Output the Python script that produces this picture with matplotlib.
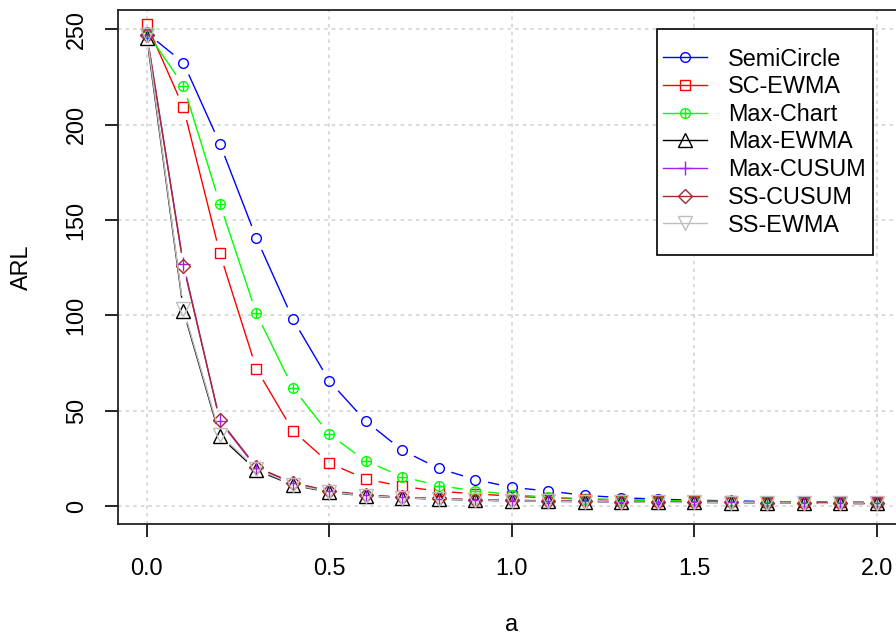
import numpy as np
import matplotlib
matplotlib.use("Agg")
import matplotlib.pyplot as plt
from matplotlib.collections import LineCollection
from matplotlib.lines import Line2D
from matplotlib.patches import Rectangle

plt.rcParams["font.family"] = ["Liberation Sans", "DejaVu Sans"]

# shift size a
a_values = [0.0, 0.1, 0.2, 0.3, 0.4, 0.5, 0.6, 0.7, 0.8, 0.9, 1.0,
            1.1, 1.2, 1.3, 1.4, 1.5, 1.6, 1.7, 1.8, 1.9, 2.0]

# average run lengths per chart
semicircle = [248, 232.5, 190, 140.5, 98, 65.5, 44.5, 29.2, 19.7, 13.9, 9.8,
              7.9, 5.6, 4.4, 3.6, 3.1, 2.7, 2.4, 2.2, 2.0, 1.9]
sc_ewma = [252.5, 209, 132.5, 72, 39.5, 22.5, 14.2, 10.3, 7.8, 6.4, 5.2,
           4.3, 3.7, 3.2, 2.9, 2.6, 2.4, 2.2, 2.1, 2.0, 1.9]
max_chart = [248.5, 220.5, 158.5, 101, 62, 37.6, 23.6, 15.4, 10.7, 8.0, 6.0,
             4.7, 3.9, 3.3, 2.9, 2.6, 2.4, 2.2, 2.0, 1.9, 1.8]
max_ewma = [245.5, 102.5, 36.5, 18.8, 11.0, 7.2, 5.3, 4.3, 3.6, 3.1, 2.7,
            2.5, 2.3, 2.1, 2.0, 1.9, 1.8, 1.7, 1.6, 1.5, 1.5]
max_cusum = [247, 127, 44.5, 20, 12, 7.8, 5.6, 4.6, 3.9, 3.3, 3.0,
             2.7, 2.5, 2.3, 2.2, 2.0, 1.9, 1.8, 1.7, 1.6, 1.5]
ss_cusum = [247, 126, 45, 20.5, 12.2, 8.0, 5.8, 4.7, 4.0, 3.4, 3.0,
            2.8, 2.5, 2.3, 2.2, 2.1, 1.9, 1.8, 1.7, 1.6, 1.6]
ss_ewma = [247, 103.5, 37.5, 19.5, 11.3, 7.4, 5.4, 4.4, 3.7, 3.2, 2.8,
           2.5, 2.3, 2.1, 2.0, 1.9, 1.8, 1.7, 1.6, 1.6, 1.5]

series_names = ["SemiCircle", "SC-EWMA", "Max-Chart", "Max-EWMA",
                "Max-CUSUM", "SS-CUSUM", "SS-EWMA"]
series_values = [semicircle, sc_ewma, max_chart, max_ewma,
                 max_cusum, ss_cusum, ss_ewma]
series_colors = ["#0000FF", "#FF0000", "#00FF00", "#000000",
                 "#A020F0", "#A52A2A", "#BEBEBE"]
# each entry: list of (marker, size) drawn on top of each other
series_markers = [[("o", 7.0)], [("s", 7.8)], [("o", 7.0), ("+", 7.0)],
                  [("^", 9.5)], [("+", 9.5)], [("D", 7.6)], [("v", 9.5)]]

x_ticks = [0.0, 0.5, 1.0, 1.5, 2.0]
x_tick_labels = ["0.0", "0.5", "1.0", "1.5", "2.0"]
y_ticks = [0, 50, 100, 150, 200, 250]
y_tick_labels = ["0", "50", "100", "150", "200", "250"]

W, H = 896, 637
fig = plt.figure(figsize=(W / 100, H / 100), dpi=100)
left, right, top, bottom = 117.7, 906.0, 10.0, 524.0
ax = fig.add_axes([left / W, 1 - bottom / H, (right - left) / W, (bottom - top) / H])
ax.set_xlim(-0.08, 2.08)
ax.set_ylim(-9.4, 260.1)

FS = 16.8
ax.set_xticks(x_ticks)
ax.set_xticklabels(x_tick_labels)
ax.set_yticks(y_ticks)
ax.set_yticklabels(y_tick_labels)
ax.tick_params(axis="both", direction="out", length=9.6, width=1.2,
               colors="black", labelsize=FS)
ax.tick_params(axis="x", pad=14)
ax.tick_params(axis="y", pad=12, labelrotation=90)
for lbl in ax.get_yticklabels():
    lbl.set_va("center")

for side in ["left", "bottom", "top", "right"]:
    ax.spines[side].set_linewidth(1.3)
    ax.spines[side].set_color("#222222")

ax.grid(True, color="#CFCFCF", linestyle=(0, (2.2, 2.8)), linewidth=1.1)
ax.set_axisbelow(True)

ax.set_xlabel("a", fontsize=FS)
ax.xaxis.set_label_coords(0.5, -0.209)
ax.xaxis.label.set_va("baseline")
ax.set_ylabel("ARL", fontsize=FS)
ax.yaxis.set_label_coords(-0.1227, 0.5)
ax.yaxis.label.set_va("center")
ax.yaxis.label.set_ha("center")


def gapped_segments(xs, ys, gap_px):
    """Line pieces between consecutive points, leaving a gap around each point."""
    pts = ax.transData.transform(np.column_stack([xs, ys]))
    inv = ax.transData.inverted()
    segs = []
    for p0, p1 in zip(pts[:-1], pts[1:]):
        d = p1 - p0
        length = np.hypot(d[0], d[1])
        if length > 2 * gap_px:
            u = d / length
            segs.append(inv.transform(np.array([p0 + u * gap_px, p1 - u * gap_px])))
    return segs


GAP = 13.0
LW = 1.0
handles = []
for i, (name, vals, col, mks) in enumerate(zip(series_names, series_values,
                                                series_colors, series_markers)):
    z = 3 + i
    lc = LineCollection(gapped_segments(a_values, vals, GAP), colors=col,
                        linewidths=LW, zorder=z)
    ax.add_collection(lc)
    for mk, ms in mks:
        ax.plot(a_values, vals, linestyle="none", marker=mk, markersize=ms,
                markerfacecolor="none", markeredgecolor=col,
                markeredgewidth=1.0, zorder=z, clip_on=False)
    parts = []
    for j, (mk, ms) in enumerate(mks):
        parts.append(Line2D([], [], color=col, linewidth=LW,
                            linestyle="-" if j == 0 else "none",
                            marker=mk, markersize=ms, markerfacecolor="none",
                            markeredgecolor=col, markeredgewidth=1.0))
    handles.append(tuple(parts) if len(parts) > 1 else parts[0])

leg = fig.legend(handles, series_names, loc="upper left",
                 bbox_to_anchor=(662.7 / W, 1 - 47.5 / H),
                 frameon=False, fontsize=FS, borderpad=0, borderaxespad=0,
                 handlelength=1.88, handletextpad=0.92, labelspacing=0.2)
fig.add_artist(Rectangle((657.3 / W, 1 - 255.3 / H),
                         (872.7 - 657.3) / W, (255.3 - 29.3) / H,
                         transform=fig.transFigure, fill=True,
                         facecolor="none", edgecolor="black", linewidth=1.2,
                         zorder=5))
# white backdrop behind the legend block
fig.add_artist(Rectangle((657.3 / W, 1 - 255.3 / H),
                         (872.7 - 657.3) / W, (255.3 - 29.3) / H,
                         transform=fig.transFigure, facecolor="white",
                         edgecolor="none", zorder=1.5))
leg.set_zorder(6)

fig.savefig("out.png", dpi=100)
